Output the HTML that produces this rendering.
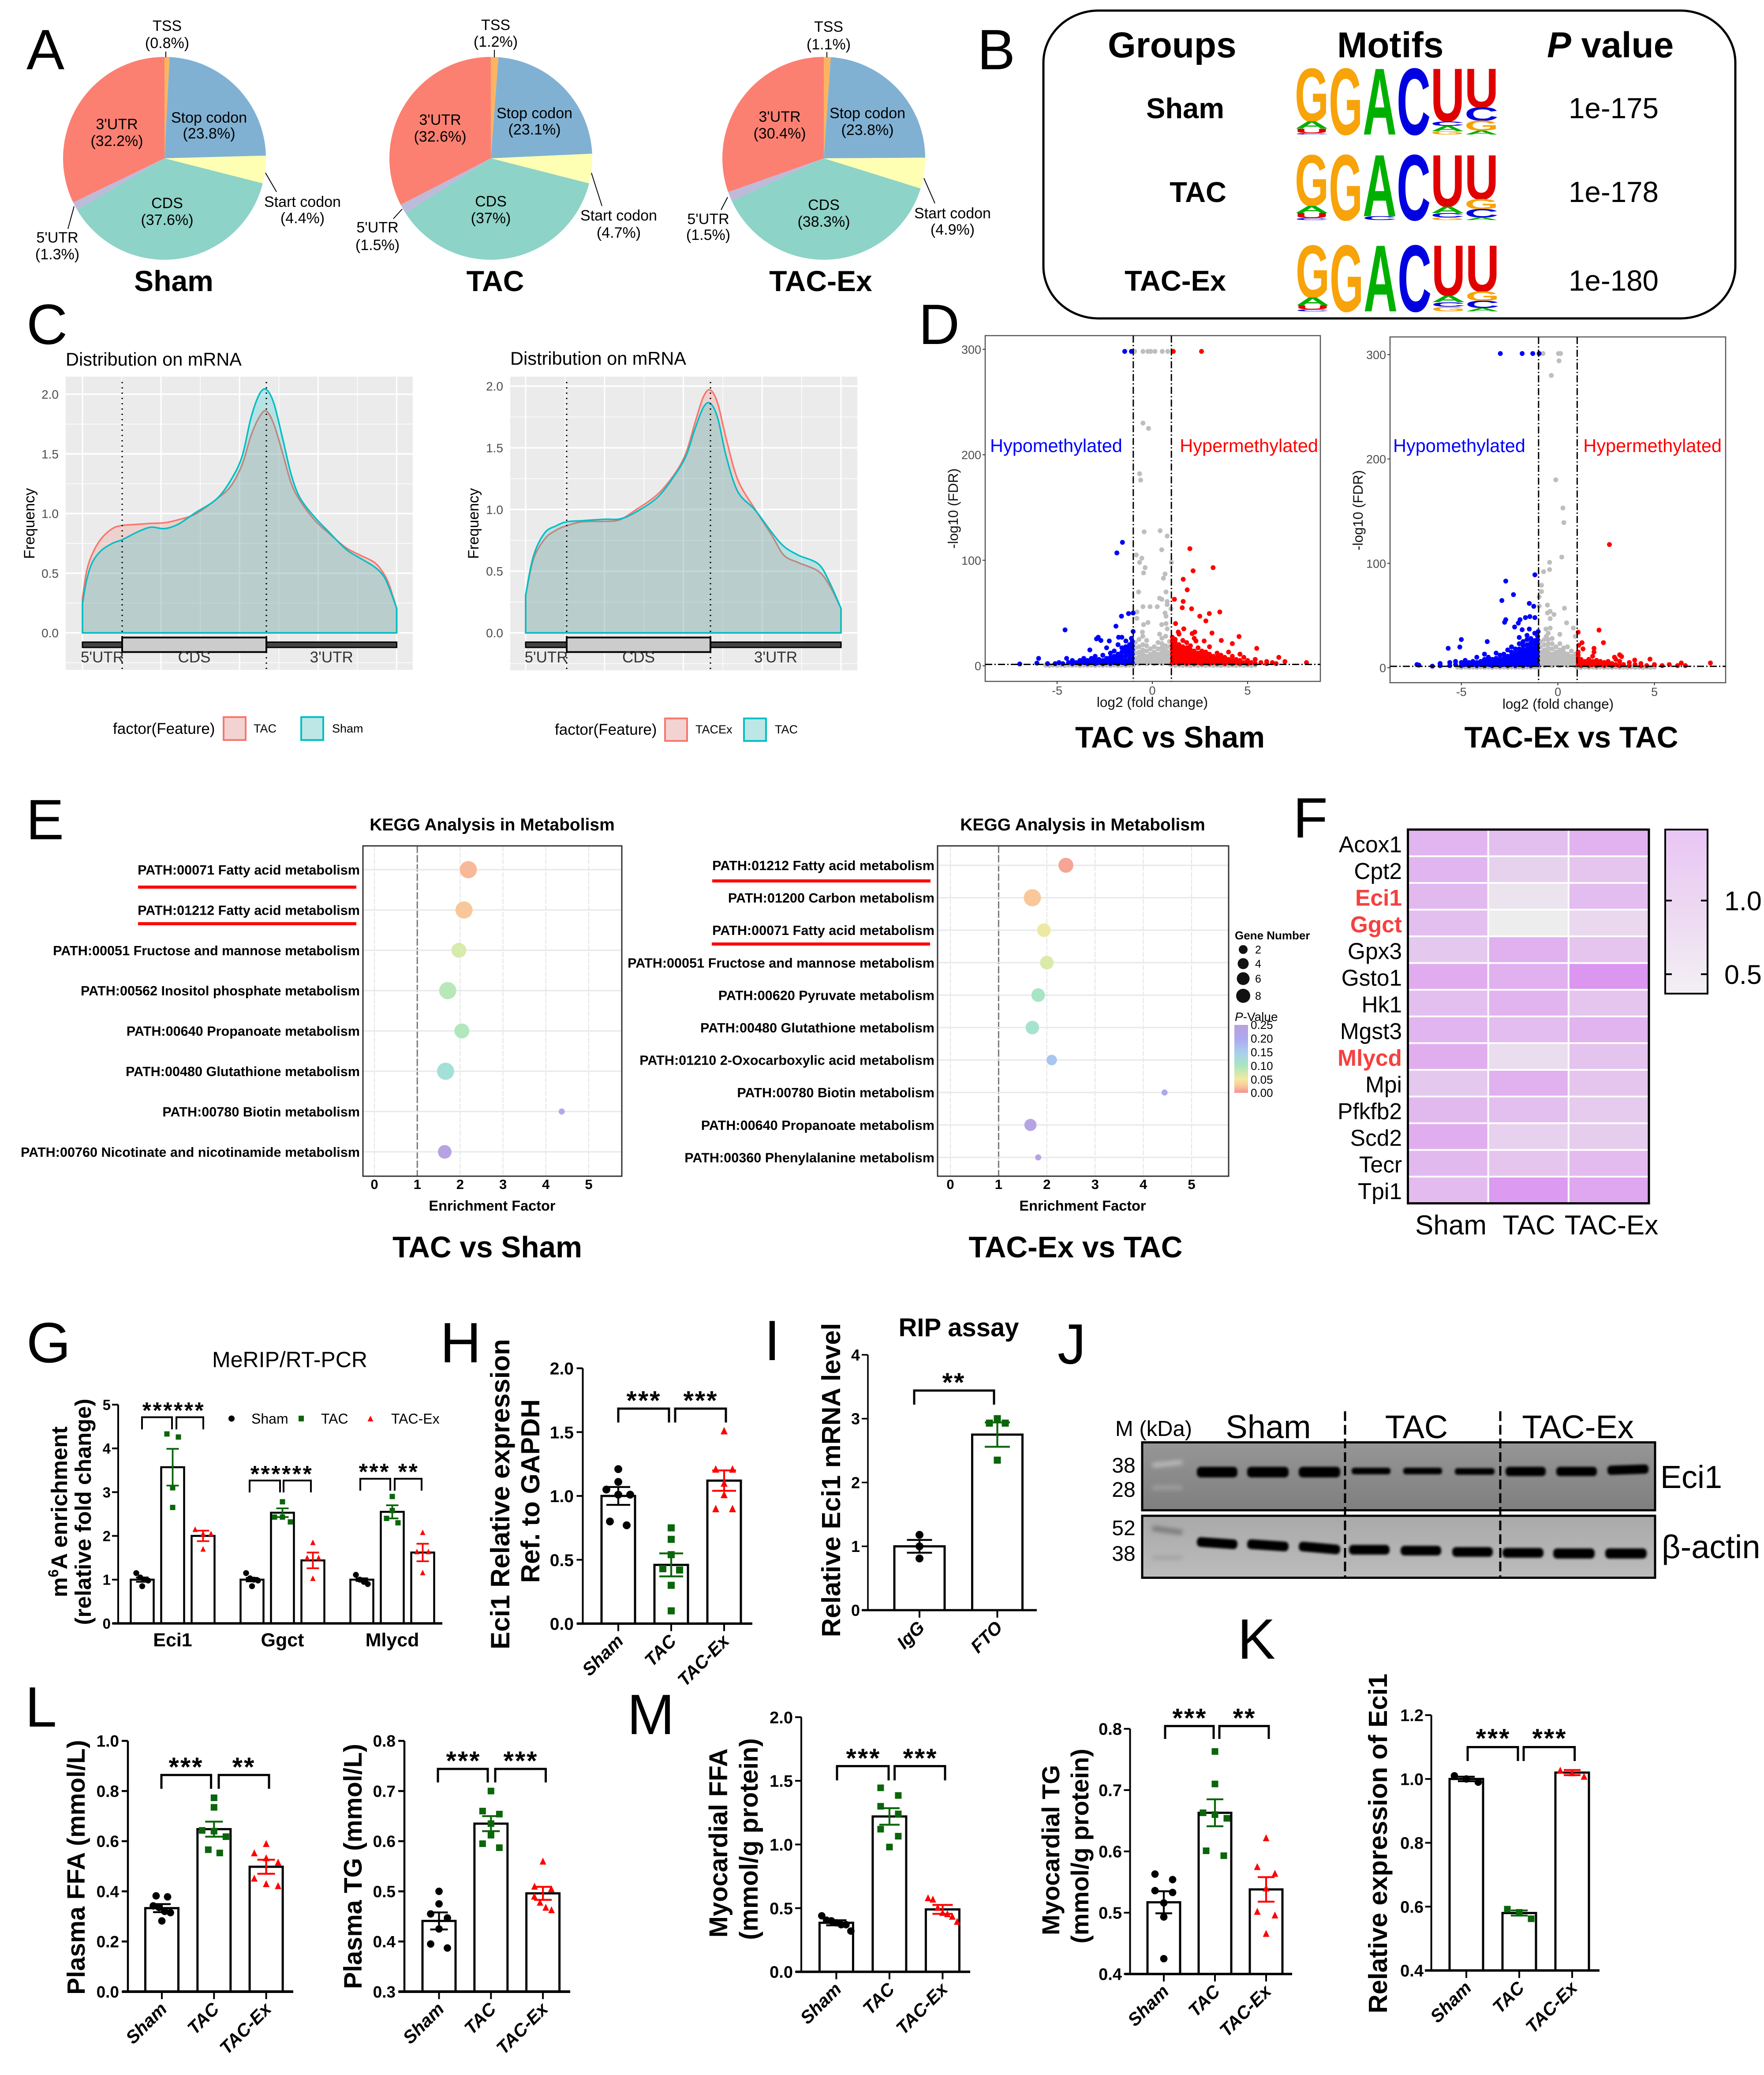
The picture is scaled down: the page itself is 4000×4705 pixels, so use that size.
<!DOCTYPE html>
<html lang="en">
<head>
<meta charset="utf-8">
<title>m6A methylation multi-panel figure</title>
<style>
html,body{margin:0;padding:0;background:#fff}
svg{display:block}
text{font-family:"Liberation Sans",Arial,sans-serif;fill:#000}
.b{font-weight:700}
.m{text-anchor:middle}
.e{text-anchor:end}
.letter{font-size:129px}
.pie{font-size:34px;text-anchor:middle}
.gh{font-size:82px;font-weight:700}
.grow{font-size:65px;font-weight:700;text-anchor:end}
.pv{font-size:65.5px}
.ctitle{font-size:41.5px}
.freq{font-size:34px;text-anchor:middle}
.genemodel{font-size:35px;fill:#333}
.leg{font-size:35px}
.legs{font-size:27px}
.vt{font-size:67.5px;font-weight:700;text-anchor:middle}
.hypo{font-size:41.5px}
.vax{font-size:31.5px;fill:#111;text-anchor:middle}
.kt{font-size:39px;font-weight:700;text-anchor:middle}
.kx{font-size:32.5px;font-weight:700;text-anchor:middle}
.star{font-size:60px;font-weight:700;text-anchor:middle;letter-spacing:3px}
.stars{font-size:52px;font-weight:700;text-anchor:middle;letter-spacing:3.5px}
.yt{font-weight:700;text-anchor:middle}
.wb{font-size:74px;text-anchor:middle}
.kd{font-size:48px;text-anchor:middle}
.bracket{fill:none;stroke:#000;stroke-width:5}
</style>
</head>
<body>
<svg id="fig" xmlns="http://www.w3.org/2000/svg" width="4000" height="4705" viewBox="0 0 4000 4705">
<defs>
<filter id="blur" x="-20%" y="-60%" width="140%" height="220%"><feGaussianBlur stdDeviation="2.6"/></filter>
<filter id="blur2" x="-20%" y="-100%" width="140%" height="300%"><feGaussianBlur stdDeviation="5"/></filter>
<linearGradient id="pvalGrad" x1="0" y1="0" x2="0" y2="1">
<stop offset="0" stop-color="#BBA0DC"/><stop offset=".2" stop-color="#ADA9EE"/><stop offset=".4" stop-color="#A9CDEE"/><stop offset=".6" stop-color="#A9E6C0"/><stop offset=".8" stop-color="#F5E9A0"/><stop offset=".9" stop-color="#F9C89A"/><stop offset="1" stop-color="#F59093"/>
</linearGradient>
<linearGradient id="heatGrad" x1="0" y1="0" x2="0" y2="1">
<stop offset="0" stop-color="#E9C5F5"/><stop offset=".5" stop-color="#EDD9F2"/><stop offset="1" stop-color="#F2F0F4"/>
</linearGradient>
<linearGradient id="blotA" x1="0" y1="0" x2="0" y2="1"><stop offset="0" stop-color="#969696"/><stop offset="1" stop-color="#7f7f7f"/></linearGradient>
<linearGradient id="blotB" x1="0" y1="0" x2="0" y2="1"><stop offset="0" stop-color="#a9a9a9"/><stop offset="1" stop-color="#bcbcbc"/></linearGradient>
</defs>

<rect x="0" y="0" width="4000" height="4705" fill="#fff"/>

<!-- Panel letters -->
<g>
<text class="letter" x="60" y="157">A</text>
<text class="letter" x="2216" y="157">B</text>
<text class="letter" x="60" y="780">C</text>
<text class="letter" x="2083" y="780">D</text>
<text class="letter" x="59" y="1903">E</text>
<text class="letter" x="2932" y="1899">F</text>
<text class="letter" x="60" y="3089">G</text>
<text class="letter" x="998" y="3089">H</text>
<text class="letter" x="1733" y="3084">I</text>
<text class="letter" x="2398" y="3092">J</text>
<text class="letter" x="2806" y="3761">K</text>
<text class="letter" x="57" y="3915">L</text>
<text class="letter" x="1422" y="3932">M</text>
</g>

<g id="pieLayer"></g>

<!-- Panel A labels -->
<g stroke-width="2">
<g stroke="#000">
<line x1="376" y1="117" x2="376" y2="130"/>
<line x1="602" y1="392" x2="627" y2="435"/>
<line x1="168" y1="468" x2="154" y2="519"/>
<line x1="1121" y1="113" x2="1121" y2="130"/>
<line x1="1341" y1="392" x2="1365" y2="467"/>
<line x1="912" y1="474" x2="892" y2="496"/>
<line x1="1875" y1="118" x2="1875" y2="130"/>
<line x1="2095" y1="404" x2="2120" y2="461"/>
<line x1="1650" y1="447" x2="1635" y2="476"/>
</g>
<text class="pie" x="379" y="70">TSS</text><text class="pie" x="379" y="109">(0.8%)</text>
<text class="pie" x="474" y="278">Stop codon</text><text class="pie" x="474" y="314">(23.8%)</text>
<text class="pie" x="265" y="293">3'UTR</text><text class="pie" x="265" y="331">(32.2%)</text>
<text class="pie" x="379" y="472">CDS</text><text class="pie" x="379" y="510">(37.6%)</text>
<text class="pie" x="686" y="469">Start codon</text><text class="pie" x="686" y="506">(4.4%)</text>
<text class="pie" x="130" y="550">5'UTR</text><text class="pie" x="130" y="588">(1.3%)</text>

<text class="pie" x="1124" y="68">TSS</text><text class="pie" x="1124" y="106">(1.2%)</text>
<text class="pie" x="1212" y="268">Stop codon</text><text class="pie" x="1212" y="305">(23.1%)</text>
<text class="pie" x="998" y="283">3'UTR</text><text class="pie" x="998" y="321">(32.6%)</text>
<text class="pie" x="1113" y="468">CDS</text><text class="pie" x="1113" y="506">(37%)</text>
<text class="pie" x="1403" y="500">Start codon</text><text class="pie" x="1403" y="539">(4.7%)</text>
<text class="pie" x="856" y="527">5'UTR</text><text class="pie" x="856" y="567">(1.5%)</text>

<text class="pie" x="1879" y="72">TSS</text><text class="pie" x="1879" y="112">(1.1%)</text>
<text class="pie" x="1967" y="268">Stop codon</text><text class="pie" x="1967" y="306">(23.8%)</text>
<text class="pie" x="1768" y="276">3'UTR</text><text class="pie" x="1768" y="314">(30.4%)</text>
<text class="pie" x="1868" y="476">CDS</text><text class="pie" x="1868" y="514">(38.3%)</text>
<text class="pie" x="2160" y="495">Start codon</text><text class="pie" x="2160" y="532">(4.9%)</text>
<text class="pie" x="1606" y="508">5'UTR</text><text class="pie" x="1606" y="544">(1.5%)</text>

<text class="b m" font-size="66" x="394" y="660">Sham</text>
<text class="b m" font-size="66" x="1123" y="660">TAC</text>
<text class="b m" font-size="66" x="1861" y="660">TAC-Ex</text>
</g>

<!-- Panel B -->
<g>
<rect x="2366" y="24" width="1569" height="698" rx="125" ry="118" fill="#fff" stroke="#000" stroke-width="5"/>
<text class="gh" x="2512" y="130">Groups</text>
<text class="gh" x="3032" y="130">Motifs</text>
<text class="gh" x="3508" y="130"><tspan font-style="italic">P</tspan> value</text>
<text class="grow" x="2776" y="268">Sham</text>
<text class="grow" x="2781" y="458">TAC</text>
<text class="grow" x="2780" y="659">TAC-Ex</text>
<text class="pv" x="3557" y="268">1e-175</text>
<text class="pv" x="3557" y="458">1e-178</text>
<text class="pv" x="3557" y="659">1e-180</text>
<g id="motifLayer"></g>
</g>

<!-- Panel C -->
<g id="curveLayer"></g>
<g>
<text class="ctitle" x="149" y="829">Distribution on mRNA</text>
<text class="ctitle" x="1157" y="827">Distribution on mRNA</text>
<text class="freq" transform="rotate(-90 78 1187)" x="78" y="1187">Frequency</text>
<text class="freq" transform="rotate(-90 1085 1187)" x="1085" y="1187">Frequency</text>
<text class="leg" x="256" y="1664">factor(Feature)</text>
<rect x="507" y="1626" width="50" height="52" fill="#F3D3D1" stroke="#F8766D" stroke-width="4"/>
<text class="legs" x="575" y="1661">TAC</text>
<rect x="683" y="1626" width="50" height="52" fill="#BDE7E7" stroke="#00BFC4" stroke-width="4"/>
<text class="legs" x="753" y="1661">Sham</text>
<text class="leg" x="1258" y="1666">factor(Feature)</text>
<rect x="1508" y="1629" width="50" height="51" fill="#F3D3D1" stroke="#F8766D" stroke-width="4"/>
<text class="legs" x="1577" y="1663">TACEx</text>
<rect x="1687" y="1629" width="50" height="51" fill="#BDE7E7" stroke="#00BFC4" stroke-width="4"/>
<text class="legs" x="1757" y="1663">TAC</text>
</g>

<!-- Panel D -->
<g id="volcanoLayer"></g>
<g>
<text class="hypo" x="2245" y="1025" style="fill:#0000ff">Hypomethylated</text>
<text class="hypo" x="2989" y="1025" text-anchor="end" style="fill:#ff0000">Hypermethylated</text>
<text class="hypo" x="3159" y="1025" style="fill:#0000ff">Hypomethylated</text>
<text class="hypo" x="3904" y="1025" text-anchor="end" style="fill:#ff0000">Hypermethylated</text>
<text class="vax" x="2613" y="1603">log2 (fold change)</text>
<text class="vax" x="3533" y="1607">log2 (fold change)</text>
<text class="vax" font-size="30" transform="rotate(-90 2172 1153)" x="2172" y="1153">-log10 (FDR)</text>
<text class="vax" font-size="30" transform="rotate(-90 3090 1157)" x="3090" y="1157">-log10 (FDR)</text>
<text class="vt" x="2653" y="1695">TAC vs Sham</text>
<text class="vt" x="3563" y="1695">TAC-Ex vs TAC</text>
</g>

<!-- Panel E -->
<g id="keggLayer"></g>
<g>
<text class="kt" x="1116" y="1883">KEGG Analysis in Metabolism</text>
<text class="kt" x="2455" y="1883">KEGG Analysis in Metabolism</text>
<text class="kx" x="1116" y="2745">Enrichment Factor</text>
<text class="kx" x="2455" y="2745">Enrichment Factor</text>
<text class="vt" x="1105" y="2851">TAC vs Sham</text>
<text class="vt" x="2439" y="2851">TAC-Ex vs TAC</text>
<rect x="313" y="2008" width="495" height="7" fill="#ff0000"/>
<rect x="313" y="2091" width="495" height="7" fill="#ff0000"/>
<rect x="1615" y="1994" width="495" height="7" fill="#ff0000"/>
<rect x="1614" y="2137" width="495" height="7" fill="#ff0000"/>
<text class="b" font-size="26" x="2800" y="2130">Gene Number</text>
<circle cx="2819" cy="2153" r="10" fill="#111"/>
<circle cx="2819" cy="2185" r="12.5" fill="#111"/>
<circle cx="2819" cy="2219" r="14.5" fill="#111"/>
<circle cx="2819" cy="2258" r="16" fill="#111"/>
<text font-size="25" x="2846" y="2162">2</text>
<text font-size="25" x="2846" y="2194">4</text>
<text font-size="25" x="2846" y="2228">6</text>
<text font-size="25" x="2846" y="2267">8</text>
<text font-size="28" x="2800" y="2315"><tspan font-style="italic">P</tspan>-Value</text>
<rect x="2799" y="2324" width="31" height="154" fill="url(#pvalGrad)"/>
<text font-size="26" x="2836" y="2333">0.25</text>
<text font-size="26" x="2836" y="2364">0.20</text>
<text font-size="26" x="2836" y="2395">0.15</text>
<text font-size="26" x="2836" y="2426">0.10</text>
<text font-size="26" x="2836" y="2457">0.05</text>
<text font-size="26" x="2836" y="2487">0.00</text>
</g>

<!-- Panel F -->
<g id="heatLayer"></g>
<g>
<rect x="3776" y="1881" width="96" height="372" fill="url(#heatGrad)" stroke="#000" stroke-width="4"/>
<path d="M3776 2042h15M3857 2042h15M3776 2209h15M3857 2209h15" stroke="#000" stroke-width="4"/>
<text font-size="61" x="3910" y="2064">1.0</text>
<text font-size="61" x="3910" y="2231">0.5</text>
</g>

<!-- Bar panels -->
<g id="barLayer"></g>
<g>
<path class="bracket" style="stroke-width:4" d="M322 3241V3213.5H390V3241M400 3241V3213.5H461V3241M566 3384V3357H635V3384M643 3384V3357H705V3384M817 3380V3353H885V3380M895 3380V3353H956V3380"/>
<text class="stars" x="394" y="3216">******</text>
<text class="stars" x="639" y="3360">******</text>
<text class="stars" x="882" y="3355">*** **</text>
<path class="bracket" d="M1402 3225.5V3194H1517V3225.5M1531 3225.5V3194H1646V3225.5"/>
<text class="star" x="1460" y="3196">***</text>
<text class="star" x="1589" y="3196">***</text>
<path class="bracket" d="M2073 3185V3153H2254V3185"/>
<text class="star" x="2163" y="3155">**</text>
<path class="bracket" d="M366 4056V4024.7H478.6V4056M496 4056V4024.7H610V4056"/>
<text class="star" x="422" y="4027">***</text>
<text class="star" x="553" y="4027">**</text>
<path class="bracket" d="M993 4041.6V4011H1106V4041.6M1123 4041.6V4011H1237.5V4041.6"/>
<text class="star" x="1051" y="4013">***</text>
<text class="star" x="1181" y="4013">***</text>
<path class="bracket" d="M1898 4037V4004.6H2015V4037M2028.6 4037V4004.6H2143V4037"/>
<text class="star" x="1958" y="4007">***</text>
<text class="star" x="2087" y="4007">***</text>
<path class="bracket" d="M2642 3943V3913.7H2752V3943M2765 3943V3913.7H2877V3943"/>
<text class="star" x="2698" y="3916">***</text>
<text class="star" x="2822" y="3916">**</text>
<path class="bracket" d="M3328 3993V3961.5H3442V3993M3455 3993V3961.5H3570.7V3993"/>
<text class="star" x="3386" y="3962">***</text>
<text class="star" x="3514" y="3962">***</text>

<text class="m" font-size="50" x="657" y="3100">MeRIP/RT-PCR</text>
<text class="yt" font-size="51" transform="rotate(-90 152 3428)" x="152" y="3428">m<tspan font-size="32" dy="-20">6</tspan><tspan dy="20">A enrichment</tspan></text>
<text class="yt" font-size="51" transform="rotate(-90 206 3428)" x="206" y="3428">(relative fold change)</text>
<circle cx="525" cy="3216.6" r="7" fill="#000"/>
<text font-size="32" x="570" y="3228">Sham</text>
<rect x="677" y="3210" width="12" height="13" fill="#0b650b"/>
<text font-size="32" x="728" y="3228">TAC</text>
<path d="M840 3210l6.500 13h-13z" fill="#ff0000"/>
<text font-size="32" x="887" y="3228">TAC-Ex</text>

<text class="yt" font-size="60" transform="rotate(-90 1155 3388)" x="1155" y="3388">Eci1 Relative expression</text>
<text class="yt" font-size="59.5" transform="rotate(-90 1223 3381)" x="1223" y="3381">Ref. to GAPDH</text>
<text class="b m" font-size="58" x="2174" y="3030">RIP assay</text>
<text class="yt" font-size="59.5" transform="rotate(-90 1905 3356)" x="1905" y="3356">Relative Eci1 mRNA level</text>
<text class="yt" font-size="57" transform="rotate(-90 192 4234)" x="192" y="4234">Plasma FFA (mmol/L)</text>
<text class="yt" font-size="57.5" transform="rotate(-90 820 4232)" x="820" y="4232">Plasma TG (mmol/L)</text>
<text class="yt" font-size="58" transform="rotate(-90 1649 4179)" x="1649" y="4179">Myocardial FFA</text>
<text class="yt" font-size="58" transform="rotate(-90 1718 4170)" x="1718" y="4170">(mmol/g protein)</text>
<text class="yt" font-size="56" transform="rotate(-90 2402 4195)" x="2402" y="4195">Myocardial TG</text>
<text class="yt" font-size="56" transform="rotate(-90 2468 4186)" x="2468" y="4186">(mmol/g protein)</text>
<text class="yt" font-size="59.5" transform="rotate(-90 3145 4180)" x="3145" y="4180">Relative expression of Eci1</text>
</g>

<!-- Panel J -->
<g>
<rect x="2590" y="3270.500" width="1163" height="154" fill="url(#blotA)"/>
<rect x="2590" y="3437" width="1163" height="140.500" fill="url(#blotB)"/>
<g filter="url(#blur2)" fill="#bdbdbd">
<rect x="2612" y="3314" width="70" height="10" rx="5" transform="rotate(-6 2647 3319)"/>
<rect x="2612" y="3368" width="70" height="10" rx="5" opacity=".45"/>
<rect x="2612" y="3464" width="70" height="12" rx="5" fill="#7a7a7a" transform="rotate(8 2647 3469)"/>
<rect x="2612" y="3528" width="70" height="8" rx="4" fill="#a0a0a0"/>
</g>
<g filter="url(#blur)" fill="#000">
<rect x="2714" y="3326" width="92" height="24" rx="9"/>
<rect x="2828" y="3326" width="94" height="24" rx="9"/>
<rect x="2945" y="3326" width="94" height="24" rx="9"/>
<rect x="3065" y="3328" width="88" height="15" rx="6"/>
<rect x="3182" y="3328" width="88" height="15" rx="6"/>
<rect x="3299" y="3329" width="90" height="15" rx="6"/>
<rect x="3414" y="3326" width="91" height="21" rx="8"/>
<rect x="3529" y="3326" width="92" height="21" rx="8"/>
<rect x="3645" y="3322" width="93" height="21" rx="8" transform="rotate(-2 3690 3332)"/>
</g>
<g filter="url(#blur)" fill="#000">
<rect x="2714" y="3488" width="92" height="22" rx="9" transform="rotate(4 2760 3499)"/>
<rect x="2828" y="3493" width="94" height="22" rx="9" transform="rotate(4 2875 3504)"/>
<rect x="2945" y="3499" width="94" height="22" rx="9" transform="rotate(5 2992 3510)"/>
<rect x="3059" y="3503" width="92" height="22" rx="9"/>
<rect x="3176" y="3505" width="92" height="22" rx="9"/>
<rect x="3293" y="3508" width="92" height="22" rx="9"/>
<rect x="3407" y="3510" width="93" height="22" rx="9"/>
<rect x="3522" y="3511" width="94" height="23" rx="9"/>
<rect x="3640" y="3511" width="94" height="23" rx="9"/>
</g>
<rect x="2590" y="3270.500" width="1163" height="154" fill="none" stroke="#000" stroke-width="5"/>
<rect x="2590" y="3437" width="1163" height="140.500" fill="none" stroke="#000" stroke-width="5"/>
<path d="M3050 3200V3576M3402 3200V3576" stroke="#000" stroke-width="5" stroke-dasharray="22 9" fill="none"/>
<text class="m" font-size="49" x="2616" y="3256">M (kDa)</text>
<text class="wb" x="2876" y="3261">Sham</text>
<text class="wb" x="3212" y="3261">TAC</text>
<text class="wb" x="3578" y="3261">TAC-Ex</text>
<text class="kd" x="2548" y="3339">38</text>
<text class="kd" x="2548" y="3394">28</text>
<text class="kd" x="2548" y="3481">52</text>
<text class="kd" x="2548" y="3539">38</text>
<text font-size="72" x="3765" y="3374">Eci1</text>
<text font-size="74" x="3768" y="3533">β-actin</text>
</g>

<script>
/* ---------- Panel A data ---------- */
const pieCategories = ['TSS', 'Stop codon', 'Start codon', 'CDS', "5'UTR", "3'UTR"];
const pieColors = ['#FDB462', '#80B1D3', '#FFFFB3', '#8DD3C7', '#BEBADA', '#FB8072'];
const pieSham = [0.8, 23.8, 4.4, 37.6, 1.3, 32.2];
const pieTac = [1.2, 23.1, 4.7, 37, 1.5, 32.6];
const pieTacEx = [1.1, 23.8, 4.9, 38.3, 1.5, 30.4];

/* ---------- Panel B data (stack heights, top to bottom) ---------- */
const motifSham = [
  [['G',.8],['A',.11],['U',.07],['C',.02]], [['G',1]], [['A',1]], [['C',1]],
  [['U',.8],['C',.07],['A',.08],['G',.05]], [['U',.59],['C',.2],['G',.15],['A',.06]]
];
const motifTac = [
  [['G',.78],['A',.11],['U',.08],['C',.03]], [['G',1]], [['A',.94],['C',.06]], [['C',1]],
  [['U',.79],['A',.1],['C',.07],['G',.04]], [['U',.68],['G',.15],['C',.13],['A',.04]]
];
const motifTacEx = [
  [['G',.79],['A',.12],['U',.06],['C',.03]], [['G',1]], [['A',1]], [['C',1]],
  [['U',.76],['A',.1],['C',.07],['G',.07]], [['U',.7],['G',.14],['C',.11],['A',.05]]
];

/* ---------- Panel C data ---------- */
const curveTickLabels = ['0.0', '0.5', '1.0', '1.5', '2.0'];
const curve1Pos = [0,.013,.031,.059,.095,.127,.178,.218,.261,.305,.361,.426,.472,.508,.536,.563,.585,.609,.637,.664,.692,.738,.783,.839,.884,.93,.958,.976,1];
const curve1Tac = [.29,.515,.66,.787,.874,.90,.91,.918,.923,.948,.998,1.12,1.23,1.41,1.65,1.81,1.86,1.75,1.505,1.257,1.11,.948,.837,.713,.651,.589,.50,.403,.205];
const curve1Sham = [.243,.44,.589,.688,.75,.782,.849,.886,.874,.911,1.01,1.12,1.28,1.48,1.8,2.0,2.04,1.925,1.63,1.33,1.134,.973,.849,.70,.626,.552,.478,.379,.205];
const curve2Pos = [0,.024,.06,.097,.13,.179,.252,.298,.344,.417,.472,.508,.536,.563,.585,.609,.636,.673,.728,.782,.819,.865,.929,.965,1];
const curve2TacEx = [.306,.593,.76,.833,.868,.9,.904,.916,.988,1.12,1.287,1.455,1.694,1.909,1.969,1.861,1.574,1.239,1.0,.785,.629,.569,.498,.378,.199];
const curve2Tac = [.306,.617,.809,.868,.9,.909,.921,.923,.971,1.096,1.275,1.431,1.646,1.825,1.861,1.742,1.431,1.144,.995,.809,.701,.629,.557,.402,.199];
const geneRegions = ["5'UTR", 'CDS', "3'UTR"];

/* ---------- Panel D data: [log2FC, -log10FDR] ---------- */
const volcanoXTicks = [-5, 0, 5];
const volcanoYTicks = [0, 100, 200, 300];
const volcano1Gray = [[-.93,298],[-.49,298],[-.23,298],[-.09,298],[.14,298],[.52,298],[.81,298],[-.49,230],[-.2,225],[-.67,182],[-.61,176],[-.43,127],[.41,128],[.78,123],[.49,110],[-.84,105],[-.55,102],[-.67,98],[1,98],[-.38,93],[-.46,88],[.67,87],[.58,83],[-.72,70],[.72,70],[.5,63],[.38,64],[.78,61],[-.49,56],[-.12,56],[.26,56],[.78,58],[.98,54],[-.81,51],[.67,50],[.72,47],[-.81,45],[-.23,41],[-.46,39],[.49,39],[.72,40],[.78,35],[-.52,32],[.38,30],
[-.9,3],[-.9,7],[-.9,12],[-.9,17],[-.9,22],[-.7,2],[-.7,5],[-.7,9],[-.7,13],[-.7,18],[-.7,25],[-.5,3],[-.5,7],[-.5,11],[-.5,15],[-.5,20],[-.5,28],[-.3,2],[-.3,5],[-.3,9],[-.3,14],[-.3,19],[-.3,24],[-.1,3],[-.1,7],[-.1,11],[-.1,16],[.1,2],[.1,5],[.1,9],[.1,13],[.1,18],[.3,3],[.3,7],[.3,11],[.3,16],[.3,22],[.5,2],[.5,5],[.5,9],[.5,13],[.5,17],[.5,21],[.5,26],[.7,3],[.7,7],[.7,11],[.7,15],[.7,19],[.7,28],[.9,2],[.9,5],[.9,9],[.9,13],[.9,18],[.9,23],
[-5.6,.5],[-5.4,.2],[-5.2,.6],[-5,.3],[-4.8,.5],[-4.6,.2],[-4.4,.6],[-4.2,.3],[-4,.5],[-3.8,.2],[-3.6,.6],[-3.4,.3],[-3.2,.5],[-3,.2],[-2.8,.6],[-2.6,.3],[-2.4,.5],[-2.2,.2],[-2,.6],[-1.8,.3],[-1.6,.5],[-1.4,.2],[-1.2,.6],[-1,.3],[1,.5],[1.2,.2],[1.4,.6],[1.6,.3],[1.8,.5],[2,.2],[2.2,.6],[2.4,.3],[2.6,.5],[2.8,.2],[3,.6],[3.2,.3],[3.4,.5],[3.6,.2],[3.8,.6],[4,.3],[4.2,.5],[4.4,.2],[4.6,.6],[4.8,.3],[5,.5],[5.2,.2],[5.4,.5]];
const volcano1Hypo = [[-1.45,298],[-1.1,298],[-1.57,117],[-1.86,107],[-1.01,50],[-1.25,49.5],[-1.62,47],[-1.91,37.5],[-4.58,34],[-1.01,32.5],[-2.84,27],[-2.93,25.5],[-2.7,24],[-2.26,23.5],[-1.77,27],[-1.6,27],[-1.39,23.5],[-1.1,26],[-3.28,15],[-2.4,17],[-5.97,7],[-6.06,2.5],[-6.96,1.7],
[-1.05,3],[-1.05,7],[-1.05,11],[-1.05,15],[-1.05,19],[-1.05,23],[-1.2,3],[-1.2,6],[-1.2,10],[-1.2,13],[-1.2,16],[-1.2,20],[-1.4,2],[-1.4,5],[-1.4,9],[-1.4,12],[-1.4,15],[-1.4,18],[-1.6,3],[-1.6,6],[-1.6,9],[-1.6,13],[-1.6,17],[-1.8,2],[-1.8,5],[-1.8,8],[-1.8,11],[-1.8,20],[-2,3],[-2,6],[-2,9],[-2,14],[-2.2,2],[-2.2,5],[-2.2,8],[-2.2,12],[-2.4,3],[-2.4,7],[-2.6,2],[-2.6,5],[-2.6,10],[-2.8,3],[-2.8,6],[-3,2],[-3,5],[-3,9],[-3.2,3],[-3.2,7],[-3.4,2],[-3.4,5],[-3.6,3],[-3.6,7],[-3.8,2],[-3.8,5],[-4,3],[-4.2,2],[-4.2,5],[-4.4,3],[-4.5,7],[-4.7,2],[-4.9,3],[-5.1,2],[-5.5,2]];
const volcano1Hyper = [[1.1,298],[2.58,298],[1.97,111],[3.19,93],[2.14,90],[1.62,82],[1.83,72],[1.16,63],[1.62,61],[2.06,54],[1.57,55],[3.54,51],[2.99,49.5],[2.49,47],[2.81,42.5],[1.22,40],[1.65,35],[1.36,32],[2.09,30.5],[2.23,32],[3.13,31],[4.55,27.7],[2.29,23.5],[2.72,23.5],[3.62,24],[4.2,21],[5.48,16.5],[6.64,8],[8.09,3],[6.96,4],[6,4],
[1.05,3],[1.05,7],[1.05,11],[1.05,15],[1.05,19],[1.05,23],[1.05,27],[1.2,3],[1.2,6],[1.2,9],[1.2,12],[1.2,15],[1.2,18],[1.2,22],[1.2,25],[1.4,2],[1.4,5],[1.4,8],[1.4,11],[1.4,14],[1.4,17],[1.4,20],[1.4,30],[1.6,3],[1.6,6],[1.6,9],[1.6,12],[1.6,15],[1.6,18],[1.6,24],[1.8,2],[1.8,5],[1.8,8],[1.8,11],[1.8,14],[1.8,17],[1.8,22],[2,3],[2,6],[2,9],[2,12],[2,15],[2,19],[2.2,2],[2.2,5],[2.2,8],[2.2,11],[2.2,14],[2.2,26],[2.4,3],[2.4,6],[2.4,9],[2.4,12],[2.4,17],[2.6,2],[2.6,5],[2.6,8],[2.6,11],[2.6,14],[2.8,3],[2.8,6],[2.8,9],[2.8,13],[3,2],[3,5],[3,8],[3,11],[3,18],[3.2,3],[3.2,6],[3.2,9],[3.4,2],[3.4,5],[3.4,8],[3.4,12],[3.6,3],[3.6,6],[3.6,10],[3.8,2],[3.8,5],[3.8,8],[4,3],[4,6],[4,13],[4.2,2],[4.2,5],[4.2,9],[4.4,3],[4.4,6],[4.6,2],[4.6,5],[4.6,11],[4.8,3],[4.8,8],[5,2],[5,5],[5.2,3],[5.4,2],[5.4,6],[5.7,3],[6,2],[6.3,3],[6.5,2]];
const volcano2Gray = [[-.77,301],[.03,301],[.14,301],[.06,294],[-.34,280],[-.11,180],[.26,153],[.31,139],[.2,106],[-.43,101],[-.43,94],[-.74,92],[-.85,79],[-.85,73],[-.97,68],[-.54,60],[-.97,59],[.34,57],[-.4,54],[-.54,52.5],[-.2,51],[-.4,47],[.45,43],[-.62,37],[.8,38],[-.5,33],[-.4,38],[-.6,30],[-.3,28],[.1,32],[.9,30],
[-.9,3],[-.9,7],[-.9,11],[-.9,15],[-.9,20],[-.9,25],[-.7,2],[-.7,5],[-.7,9],[-.7,13],[-.7,17],[-.7,22],[-.7,27],[-.5,3],[-.5,7],[-.5,11],[-.5,15],[-.5,19],[-.5,23],[-.5,27],[-.3,2],[-.3,5],[-.3,9],[-.3,13],[-.3,18],[-.3,23],[-.1,3],[-.1,7],[-.1,11],[-.1,15],[-.1,20],[.1,2],[.1,5],[.1,9],[.1,13],[.1,17],[.1,23],[.3,3],[.3,7],[.3,11],[.3,15],[.3,19],[.5,2],[.5,5],[.5,9],[.5,13],[.5,20],[.7,3],[.7,7],[.7,11],[.7,16],[.9,2],[.9,5],[.9,9],[.9,13],
[-5.2,.5],[-5,.2],[-4.8,.6],[-4.6,.3],[-4.4,.5],[-4.2,.2],[-4,.6],[-3.8,.3],[-3.6,.5],[-3.4,.2],[-3.2,.6],[-3,.3],[-2.8,.5],[-2.6,.2],[-2.4,.6],[-2.2,.3],[-2,.5],[-1.8,.2],[-1.6,.6],[-1.4,.3],[-1.2,.5],[-1,.2],[1,.5],[1.2,.2],[1.4,.6],[1.6,.3],[1.8,.5],[2,.2],[2.2,.6],[2.4,.3],[2.6,.5],[2.8,.2],[3,.6],[3.2,.3],[3.4,.5],[3.6,.2],[3.8,.6],[4,.3],[4.2,.5],[4.4,.2],[4.6,.6],[4.8,.3],[5,.5]];
const volcano2Hypo = [[-2.98,301],[-1.85,301],[-1.3,301],[-.97,301],[-1.19,89],[-2.7,83],[-2.3,70],[-2.9,64.4],[-1.48,61.6],[-1.25,58.8],[-2.7,46],[-2.76,43.5],[-1.68,48],[-1.45,49],[-1.19,48],[-1.96,46],[-2.05,42.7],[-2.24,39],[-1.85,36.4],[-1.48,37],[-1.02,34.7],[-5,27],[-3.66,25],[-5.68,18.6],[-5.08,19.8],
[-1.05,3],[-1.05,7],[-1.05,11],[-1.05,15],[-1.05,19],[-1.05,23],[-1.05,27],[-1.05,30],[-1.2,3],[-1.2,6],[-1.2,9],[-1.2,12],[-1.2,15],[-1.2,18],[-1.2,22],[-1.2,26],[-1.2,33],[-1.4,2],[-1.4,5],[-1.4,8],[-1.4,11],[-1.4,14],[-1.4,17],[-1.4,20],[-1.4,24],[-1.4,28],[-1.6,3],[-1.6,6],[-1.6,9],[-1.6,12],[-1.6,15],[-1.6,18],[-1.6,22],[-1.6,27],[-1.6,31],[-1.8,2],[-1.8,5],[-1.8,8],[-1.8,11],[-1.8,14],[-1.8,17],[-1.8,21],[-1.8,25],[-2,3],[-2,6],[-2,9],[-2,12],[-2,15],[-2,18],[-2,23],[-2,29],[-2.2,2],[-2.2,5],[-2.2,8],[-2.2,11],[-2.2,14],[-2.2,18],[-2.4,3],[-2.4,6],[-2.4,9],[-2.4,12],[-2.4,15],[-2.4,20],[-2.6,2],[-2.6,5],[-2.6,8],[-2.6,11],[-2.6,17],[-2.8,3],[-2.8,6],[-2.8,9],[-2.8,13],[-3,2],[-3,5],[-3,8],[-3,12],[-3.2,3],[-3.2,6],[-3.2,9],[-3.2,14],[-3.4,2],[-3.4,5],[-3.4,8],[-3.6,3],[-3.6,6],[-3.6,10],[-3.8,2],[-3.8,5],[-3.8,8],[-3.8,13],[-4,3],[-4,6],[-4.2,2],[-4.2,5],[-4.2,10],[-4.4,3],[-4.4,6],[-4.6,2],[-4.6,5],[-4.8,3],[-4.8,7],[-5,2],[-5,5],[-5.3,3],[-5.3,6],[-5.6,2],[-5.6,5],[-6.1,2],[-6.1,4],[-6.5,1.5],[-7.2,2.5],[-7.3,3]];
const volcano2Hyper = [[2.67,118],[2.13,36],[1.05,34],[2.36,24],[1.25,24],[1.08,21.5],[1.3,18],[1.87,18.6],[1.87,15],[3.2,12.4],[3.3,10.7],[2.93,10],[3.98,7.3],[4.77,8.2],[7.9,4.5],[6.39,4.5],[5.77,3],
[1.05,3],[1.05,6],[1.05,9],[1.05,12],[1.05,15],[1.2,2],[1.2,5],[1.2,8],[1.4,3],[1.4,6],[1.6,2],[1.6,5],[1.6,8],[1.8,3],[1.8,6],[1.8,11],[2,2],[2,5],[2,7],[2.2,3],[2.2,6],[2.4,2],[2.4,5],[2.6,3],[2.6,6],[2.8,2],[2.8,4],[3,3],[3,8],[3.2,2],[3.2,6],[3.4,3],[3.7,2],[3.7,5],[4,3],[4.3,2],[4.3,4],[4.6,2],[5,3],[5.4,2],[6.2,2],[6.6,2]];

/* ---------- Panel E data ---------- */
const keggFactorTicks = [0, 1, 2, 3, 4, 5];
const kegg1Terms = ['PATH:00071 Fatty acid metabolism','PATH:01212 Fatty acid metabolism','PATH:00051 Fructose and mannose metabolism','PATH:00562 Inositol phosphate metabolism','PATH:00640 Propanoate metabolism','PATH:00480 Glutathione metabolism','PATH:00780 Biotin metabolism','PATH:00760 Nicotinate and nicotinamide metabolism'];
const kegg1Factor = [2.19, 2.09, 1.97, 1.71, 2.04, 1.66, 4.37, 1.64];
const kegg1Genes = [8, 8, 6, 8, 6, 8, 1, 5];
const kegg1Pvalues = [.02, .03, .07, .09, .095, .125, .2, .235];
const kegg2Terms = ['PATH:01212 Fatty acid metabolism','PATH:01200 Carbon metabolism','PATH:00071 Fatty acid metabolism','PATH:00051 Fructose and mannose metabolism','PATH:00620 Pyruvate metabolism','PATH:00480 Glutathione metabolism','PATH:01210 2-Oxocarboxylic acid metabolism','PATH:00780 Biotin metabolism','PATH:00640 Propanoate metabolism','PATH:00360 Phenylalanine metabolism'];
const kegg2Factor = [2.395, 1.70, 1.94, 2.0, 1.82, 1.70, 2.10, 4.44, 1.66, 1.82];
const kegg2Genes = [6, 8, 5, 5, 5, 5, 3, 1, 4, 1];
const kegg2Pvalues = [.007, .03, .055, .068, .105, .115, .16, .2, .23, .24];

/* ---------- Panel F data ---------- */
const heatGenes = ['Acox1','Cpt2','Eci1','Ggct','Gpx3','Gsto1','Hk1','Mgst3','Mlycd','Mpi','Pfkfb2','Scd2','Tecr','Tpi1'];
const heatHighlighted = ['Eci1','Ggct','Mlycd'];
const heatGroups = ['Sham','TAC','TAC-Ex'];
const heatValues = [[1.04,.93,1.08],[1.04,.71,.86],[1.0,.51,.95],[.93,.4,.64],[.83,1.1,.87],[1.15,1.1,1.42],[.93,1.05,.86],[1.04,.95,1.07],[1.12,.58,.88],[.83,1.1,.86],[1.0,.93,.79],[1.12,.72,.77],[1.0,.86,.97],[.97,1.35,1.2]];

/* ---------- Bar panel data ---------- */
const groupLabels = ['Sham', 'TAC', 'TAC-Ex'];
const gCategories = ['Eci1', 'Ggct', 'Mlycd'];
const gTicks = ['0', '1', '2', '3', '4', '5'];
const gMeans = [[1, 3.57, 2], [1, 2.53, 1.44], [1, 2.55, 1.62]];
const gSems = [[.05, .42, .12], [.04, .1, .18], [.03, .15, .2]];
const gPoints = [
  [[1.15,1.05,1,.98,.85],[4.33,4.26,3.1,2.65],[2.15,2.05,2.05,1.7]],
  [[1.15,1.03,1,.98,.85],[2.78,2.43,2.43,2.32],[1.85,1.5,1.5,1.03]],
  [[1.11,1,.95,.9],[2.9,2.58,2.4,2.3],[2.08,1.64,1.64,1.16]]
];
const hTicks = ['0.0', '0.5', '1.0', '1.5', '2.0'];
const hMeans = [1.0, .46, 1.12];
const hSems = [.07, .09, .08];
const hPoints = [[1.21,1.11,1.05,1.01,1.01,.8,.77],[.75,.66,.54,.43,.42,.3,.1],[1.51,1.21,1.21,1.1,1.01,.9,.9]];
const iTicks = ['0', '1', '2', '3', '4'];
const iCategories = ['IgG', 'FTO'];
const iMeans = [1.0, 2.75];
const iSems = [.1, .19];
const iPoints = [[1.18,1.0,.81],[3.0,2.93,2.93,2.35]];
const l1Ticks = ['0.0', '0.2', '0.4', '0.6', '0.8', '1.0'];
const l1Means = [.333, .648, .498];
const l1Sems = [.016, .03, .028];
const l1Points = [[.382,.378,.342,.336,.32,.315,.282],[.773,.735,.643,.64,.618,.566,.553],[.59,.553,.533,.516,.452,.43,.422]];
const l2Ticks = ['0.3', '0.4', '0.5', '0.6', '0.7', '0.8'];
const l2Means = [.441, .635, .496];
const l2Sems = [.017, .015, .013];
const l2Points = [[.5,.475,.455,.447,.425,.395,.387],[.7,.66,.654,.635,.612,.595,.587],[.56,.51,.505,.49,.478,.468,.463]];
const m1Ticks = ['0.0', '0.5', '1.0', '1.5', '2.0'];
const m1Means = [.385, 1.22, .49];
const m1Sems = [.02, .065, .035];
const m1Points = [[.44,.405,.4,.385,.37,.37,.32],[1.445,1.385,1.3,1.24,1.12,1.065,.98],[.58,.57,.505,.465,.455,.435,.395]];
const m2Ticks = ['0.4', '0.5', '0.6', '0.7', '0.8'];
const m2Means = [.517, .663, .538];
const m2Sems = [.018, .022, .02];
const m2Points = [[.563,.554,.536,.533,.516,.493,.425],[.763,.71,.663,.66,.654,.601,.593],[.622,.575,.564,.54,.502,.496,.466]];
const kTicks = ['0.4', '0.6', '0.8', '1.0', '1.2'];
const kMeans = [1.0, .58, 1.02];
const kSems = [.007, .008, .008];
const kPoints = [[1.01,1.0,.99],[.592,.582,.562],[1.027,1.019,1.008]];

/* ---------- Helpers ---------- */
const NS = 'http://www.w3.org/2000/svg';
function make(tag, attrs, parent) {
  const el = document.createElementNS(NS, tag);
  for (const k in attrs) el.setAttribute(k, attrs[k]);
  parent.appendChild(el);
  return el;
}
function byId(id) { return document.getElementById(id); }
function smoothPath(pts) {
  let d = 'M' + pts[0][0].toFixed(1) + ' ' + pts[0][1].toFixed(1);
  for (let i = 0; i < pts.length - 1; i++) {
    const p0 = pts[Math.max(0, i - 1)], p1 = pts[i], p2 = pts[i + 1], p3 = pts[Math.min(pts.length - 1, i + 2)];
    const c1x = p1[0] + (p2[0] - p0[0]) / 6, c1y = p1[1] + (p2[1] - p0[1]) / 6;
    const c2x = p2[0] - (p3[0] - p1[0]) / 6, c2y = p2[1] - (p3[1] - p1[1]) / 6;
    d += 'C' + c1x.toFixed(1) + ' ' + c1y.toFixed(1) + ' ' + c2x.toFixed(1) + ' ' + c2y.toFixed(1) + ' ' + p2[0].toFixed(1) + ' ' + p2[1].toFixed(1);
  }
  return d;
}
function linear(d0, d1, r0, r1) { return v => r0 + (v - d0) * (r1 - r0) / (d1 - d0); }

/* ---------- Pies ---------- */
function drawPie(name, values, cx, cy, r) {
  const g = make('g', {}, byId('pieLayer'));
  
  
  const total = values.reduce((a, b) => a + b, 0);
  let acc = 0;
  values.forEach((v, i) => {
    const a0 = acc / total * 2 * Math.PI;
    acc += v;
    const a1 = acc / total * 2 * Math.PI;
    const large = a1 - a0 > Math.PI ? 1 : 0;
    const d = 'M' + cx + ' ' + cy + 'L' + (cx + r * Math.sin(a0)).toFixed(2) + ' ' + (cy - r * Math.cos(a0)).toFixed(2) +
      'A' + r + ' ' + r + ' 0 ' + large + ' 1 ' + (cx + r * Math.sin(a1)).toFixed(2) + ' ' + (cy - r * Math.cos(a1)).toFixed(2) + 'Z';
    const slice = make('path', { d: d, fill: pieColors[i] }, g);
    
    
  });
}
drawPie('pie-sham', pieSham, 373, 359, 230);
drawPie('pie-tac', pieTac, 1113, 359, 230);
drawPie('pie-tac-ex', pieTacEx, 1868, 359, 230);

/* ---------- Motif logos ---------- */
const motifColors = { G: '#F7A309', A: '#00B000', C: '#0000E0', U: '#E00000' };
const motifWidths = { G: .778, A: .722, C: .722, U: .722 };
function drawMotif(name, stacks, x0, yBottom, height, colW) {
  const g = make('g', {}, byId('motifLayer'));
  
  
  stacks.forEach((stack, col) => {
    let y = yBottom - height;
    stack.forEach(layer => {
      const h = layer[1] * height;
      y += h;
      const sx = colW / (motifWidths[layer[0]] * 100);
      const sy = h / 69;
      const t = make('text', {
        x: 0, y: 0, 'font-size': 100, 'font-weight': 700,
        style: 'fill:' + motifColors[layer[0]],
        transform: 'translate(' + (x0 + col * colW).toFixed(1) + ' ' + y.toFixed(1) + ') scale(' + sx.toFixed(3) + ' ' + sy.toFixed(3) + ')'
      }, g);
      
      
      t.textContent = layer[0];
    });
  });
}
drawMotif('motif-logo-sham', motifSham, 2936, 305, 149, 77);
drawMotif('motif-logo-tac', motifTac, 2936, 499, 147, 77);
drawMotif('motif-logo-tac-ex', motifTacEx, 2938, 706, 149, 77);

/* ---------- Density curves ---------- */
function drawCurves(name, c, pos, serA, serB) {
  const g = make('g', {}, byId('curveLayer'));
  
  
  const bg = make('rect', { x: c.left, y: c.top, width: c.right - c.left, height: c.bottom - c.top, fill: '#EBEBEB' }, g);
  
  
  const x = linear(0, 1, c.x0, c.x1);
  const y = linear(0, 2, c.y0, c.y2);
  [.125, .375, .625, .875].forEach(f => {
    const ln = make('line', { x1: x(f), x2: x(f), y1: c.top, y2: c.bottom, stroke: '#fff', 'stroke-width': 1.5 }, g);
    
    
  });
  [0, .25, .5, .75, 1].forEach(f => {
    const ln = make('line', { x1: x(f), x2: x(f), y1: c.top, y2: c.bottom, stroke: '#fff', 'stroke-width': 3 }, g);
    
    
  });
  [-.25, .25, .75, 1.25, 1.75].forEach(v => {
    const ln = make('line', { x1: c.left, x2: c.right, y1: y(v), y2: y(v), stroke: '#fff', 'stroke-width': 1.5 }, g);
    
    
  });
  curveTickLabels.forEach(lbl => {
    const v = Number(lbl);
    const ln = make('line', { x1: c.left, x2: c.right, y1: y(v), y2: y(v), stroke: '#fff', 'stroke-width': 3.5 }, g);
    
    
    const t = make('text', { x: c.left - 16, y: y(v) + 10, 'font-size': 28, 'text-anchor': 'end', style: 'fill:#4d4d4d' }, g);
    
    
    t.textContent = lbl;
  });
  [[serA, '#F8766D', 'series-a'], [serB, '#00BFC4', 'series-b']].forEach(s => {
    const pts = pos.map((p, i) => [x(p), y(s[0][i])]);
    const line = smoothPath(pts);
    const area = make('path', { d: line + 'L' + x(1) + ' ' + y(0) + 'L' + x(0) + ' ' + y(0) + 'Z', fill: s[1], 'fill-opacity': .22, stroke: s[1], 'stroke-width': 3.5 }, g);
    
    
  });
  [c.b1, c.b2].forEach(b => {
    const ln = make('line', { x1: b, x2: b, y1: c.top + 12, y2: c.bottom, stroke: '#000', 'stroke-width': 3, 'stroke-dasharray': '3 9' }, g);
    
    
  });
  const utr = make('rect', { x: c.x0, y: 1456, width: c.x1 - c.x0, height: 12, fill: '#444', stroke: '#000', 'stroke-width': 3 }, g);
  
  
  const cds = make('rect', { x: c.b1, y: 1445.5, width: c.b2 - c.b1, height: 33, fill: '#ccc', stroke: '#000', 'stroke-width': 4 }, g);
  
  
  const regionCenters = [(c.x0 + c.b1) / 2, (c.b1 + c.b2) / 2, (c.b2 + c.x1) / 2];
  geneRegions.forEach((r, i) => {
    const t = make('text', { x: regionCenters[i], y: 1502, class: 'genemodel m' }, g);
    
    
    t.textContent = r;
  });
}
drawCurves('curve-tac-vs-sham', { left: 149, right: 936, top: 854, bottom: 1519, x0: 187, x1: 899.5, b1: 277, b2: 604, y0: 1435, y2: 894 }, curve1Pos, curve1Tac, curve1Sham);
drawCurves('curve-tacex-vs-tac', { left: 1157, right: 1944, top: 854, bottom: 1520, x0: 1192, x1: 1907, b1: 1285, b2: 1611, y0: 1435, y2: 875.5 }, curve2Pos, curve2TacEx, curve2Tac);

/* ---------- Volcano ---------- */
function drawVolcano(name, c, gray, hypo, hyper) {
  const g = make('g', {}, byId('volcanoLayer'));
  
  
  const x = linear(0, 5, c.x0, c.x5);
  const y = linear(0, 300, c.y0, c.y300);
  [[gray, '#BEBEBE', 'gray'], [hypo, '#0000FF', 'hypo'], [hyper, '#FF0000', 'hyper']].forEach(s => {
    s[0].forEach(p => {
      const dot = make('circle', { cx: x(p[0]).toFixed(1), cy: y(p[1]).toFixed(1), r: 5.5, fill: s[1] }, g);
      
      
    });
  });
  const box = make('rect', { x: c.left, y: c.top, width: c.right - c.left, height: c.bottom - c.top, fill: 'none', stroke: '#555', 'stroke-width': 2.5 }, g);
  
  
  [-1, 1].forEach(v => {
    const ln = make('line', { x1: x(v), x2: x(v), y1: c.top, y2: c.bottom, stroke: '#000', 'stroke-width': 3, 'stroke-dasharray': '16 5 3 5' }, g);
    
    
  });
  const hl = make('line', { x1: c.left, x2: c.right, y1: y(1.3), y2: y(1.3), stroke: '#000', 'stroke-width': 3, 'stroke-dasharray': '16 5 3 5' }, g);
  
  
  volcanoXTicks.forEach(v => {
    const tk = make('line', { x1: x(v), x2: x(v), y1: c.bottom, y2: c.bottom + 6, stroke: '#333', 'stroke-width': 2 }, g);
    
    
    const t = make('text', { x: x(v), y: c.bottom + 30, 'font-size': 27, 'text-anchor': 'middle', style: 'fill:#4d4d4d' }, g);
    
    
    t.textContent = v;
  });
  volcanoYTicks.forEach(v => {
    const tk = make('line', { x1: c.left - 6, x2: c.left, y1: y(v), y2: y(v), stroke: '#333', 'stroke-width': 2 }, g);
    
    
    const t = make('text', { x: c.left - 9, y: y(v) + 10, 'font-size': 27, 'text-anchor': 'end', style: 'fill:#4d4d4d' }, g);
    
    
    t.textContent = v;
  });
}
drawVolcano('volcano-tac-vs-sham', { left: 2234, right: 2994, top: 761, bottom: 1545, x0: 2613, x5: 2829, y0: 1509.6, y300: 792 }, volcano1Gray, volcano1Hypo, volcano1Hyper);
drawVolcano('volcano-tacex-vs-tac', { left: 3152, right: 3913, top: 764, bottom: 1548, x0: 3532.6, x5: 3751.5, y0: 1514, y300: 804 }, volcano2Gray, volcano2Hypo, volcano2Hyper);

/* ---------- KEGG dot plots ---------- */
const pvalStops = [[0,[245,154,147]],[.03,[249,200,154]],[.05,[245,233,160]],[.075,[207,235,174]],[.1,[169,230,192]],[.125,[165,224,216]],[.15,[169,205,238]],[.2,[173,169,238]],[.25,[187,160,220]]];
function pvalColor(p) {
  for (let i = 0; i < pvalStops.length - 1; i++) {
    const a = pvalStops[i], b = pvalStops[i + 1];
    if (p <= b[0]) {
      const t = (p - a[0]) / (b[0] - a[0]);
      return 'rgb(' + a[1].map((v, k) => Math.round(v + (b[1][k] - v) * t)).join(',') + ')';
    }
  }
  return 'rgb(187,160,220)';
}
function drawKegg(name, c, terms, factors, genes, pvalues) {
  const g = make('g', {}, byId('keggLayer'));
  
  
  const x = linear(0, 5, c.x0, c.x5);
  const rowY = i => c.firstRow + i * c.rowStep;
  keggFactorTicks.forEach(v => {
    const ln = make('line', { x1: x(v), x2: x(v), y1: c.top, y2: c.bottom, stroke: '#E4E4E4', 'stroke-width': 2, 'stroke-dasharray': '12 3' }, g);
    
    
    const t = make('text', { x: x(v), y: 2696, 'font-size': 31, 'font-weight': 700, 'text-anchor': 'middle' }, g);
    
    
    t.textContent = v;
  });
  const one = make('line', { x1: x(1), x2: x(1), y1: c.top, y2: c.bottom, stroke: '#777', 'stroke-width': 3, 'stroke-dasharray': '16 5' }, g);
  
  
  terms.forEach((term, i) => {
    const ln = make('line', { x1: c.left, x2: c.right, y1: rowY(i), y2: rowY(i), stroke: '#E8E8E8', 'stroke-width': 3 }, g);
    
    
    const t = make('text', { x: c.left - 7, y: rowY(i) + 11, 'font-size': 30.6, 'font-weight': 700, 'text-anchor': 'end' }, g);
    
    
    t.textContent = term;
  });
  terms.forEach((term, i) => {
    const dot = make('circle', { cx: x(factors[i]), cy: rowY(i), r: 6.9 * Math.sqrt(genes[i]), fill: pvalColor(pvalues[i]) }, g);
    
    
  });
  const box = make('rect', { x: c.left, y: c.top, width: c.right - c.left, height: c.bottom - c.top, fill: 'none', stroke: '#333', 'stroke-width': 3 }, g);
  
  
}
drawKegg('kegg-tac-vs-sham', { left: 823, right: 1410, top: 1918, bottom: 2667, x0: 849, x5: 1335, firstRow: 1972, rowStep: 91.4 }, kegg1Terms, kegg1Factor, kegg1Genes, kegg1Pvalues);
drawKegg('kegg-tacex-vs-tac', { left: 2126, right: 2786, top: 1918, bottom: 2667, x0: 2155, x5: 2702, firstRow: 1962, rowStep: 73.6 }, kegg2Terms, kegg2Factor, kegg2Genes, kegg2Pvalues);

/* ---------- Heatmap ---------- */
function heatColor(v) {
  const t = Math.max(0, Math.min(1, (v - .4) / 1.0));
  const lo = [237, 237, 237], hi = [219, 150, 240];
  return 'rgb(' + lo.map((c, i) => Math.round(c + (hi[i] - c) * t)).join(',') + ')';
}
(function drawHeat() {
  const g = byId('heatLayer');
  const left = 3192.5, right = 3739, top = 1881, bottom = 2728.5;
  const cw = (right - left) / heatGroups.length, rh = (bottom - top) / heatGenes.length;
  const white = make('rect', { x: left, y: top, width: right - left, height: bottom - top, fill: '#fff' }, g);
  
  
  heatValues.forEach((row, r) => {
    row.forEach((v, c) => {
      const cell = make('rect', { x: left + c * cw + 2, y: top + r * rh + 2, width: cw - 4, height: rh - 4, fill: heatColor(v) }, g);
      
      
    });
    const hot = heatHighlighted.includes(heatGenes[r]);
    const t = make('text', { x: 3179, y: top + (r + .5) * rh + 21, 'font-size': 51.5, 'text-anchor': 'end', 'font-weight': hot ? 700 : 400, style: hot ? 'fill:#F54040' : 'fill:#000' }, g);
    
    
    t.textContent = heatGenes[r];
  });
  const frame = make('rect', { x: left, y: top, width: right - left, height: bottom - top, fill: 'none', stroke: '#000', 'stroke-width': 5 }, g);
  
  
  const labelX = [3290, 3467, 3654];
  heatGroups.forEach((h, i) => {
    const t = make('text', { x: labelX[i], y: 2799, 'font-size': 62, 'text-anchor': 'middle' }, g);
    
    
    t.textContent = h;
  });
})();

/* ---------- Bars ---------- */
const groupColors = ['#000000', '#0B650B', '#FF0000'];
const groupMarkers = ['circle', 'square', 'triangle'];
function marker(g, type, x, y, s, color) {
  let el;
  if (type === 'circle') el = make('circle', { cx: x, cy: y, r: s * .56, fill: color }, g);
  else if (type === 'square') el = make('rect', { x: x - s / 2, y: y - s / 2, width: s, height: s, fill: color }, g);
  else el = make('path', { d: 'M' + x + ' ' + (y - s * .55) + 'L' + (x + s / 2) + ' ' + (y + s * .5) + 'L' + (x - s / 2) + ' ' + (y + s * .5) + 'Z', fill: color }, g);
  return el;
}
/* Bins points that sit close vertically and spreads each bin symmetrically, as a column scatter does. */
function swarmOffsets(vals, y, c) {
  const order = vals.map((v, i) => i).sort((a, b) => vals[b] - vals[a]);
  const bin = c.bin || c.mSize;
  const offsets = vals.map(() => 0);
  let group = [];
  const flush = () => {
    const n = group.length;
    group.forEach((idx, k) => {
      if (n === 2) offsets[idx] = (k === 0 ? -1 : 1) * c.mStep;
      else if (n === 3) offsets[idx] = (k - 1) * (c.triStep || 27);
      else if (n > 3) offsets[idx] = (k - (n - 1) / 2) * (c.multi || 12);
    });
    group = [];
  };
  order.forEach(idx => {
    if (group.length && Math.abs(y(vals[idx]) - y(vals[group[group.length - 1]])) > bin) flush();
    group.push(idx);
  });
  flush();
  return offsets;
}
function drawBar(g, y, c, cx, mean, sem, pts, grp) {
  const top = y(mean);
  const base = y(c.vMin);
  const bar = make('rect', { x: cx - c.barW / 2, y: top, width: c.barW, height: base - top, fill: '#fff', stroke: '#000', 'stroke-width': c.sw }, g);
  
  
  const off = swarmOffsets(pts, y, c);
  pts.forEach((v, i) => {
    const m = marker(g, groupMarkers[grp], cx + off[i], y(v), c.mSize, groupColors[grp]);
    
    
  });
  const cap = c.capW / 2;
  const err = make('path', {
    d: 'M' + cx + ' ' + y(mean + sem) + 'V' + y(mean - sem) +
       'M' + (cx - cap) + ' ' + y(mean + sem) + 'H' + (cx + cap) +
       'M' + (cx - cap) + ' ' + y(mean - sem) + 'H' + (cx + cap),
    stroke: groupColors[grp], 'stroke-width': c.sw * .85, fill: 'none'
  }, g);
  
  
}
function drawAxes(g, y, c, ticks) {
  const base = y(c.vMin);
  const ya = make('line', { x1: c.axisX, x2: c.axisX, y1: y(c.vMax), y2: base, stroke: '#000', 'stroke-width': c.axisW }, g);
  
  
  const xa = make('line', { x1: c.xStart, x2: c.xEnd, y1: base, y2: base, stroke: '#000', 'stroke-width': c.axisW + 1.5 }, g);
  
  
  ticks.forEach(lbl => {
    const v = Number(lbl);
    const tk = make('line', { x1: c.axisX - 14, x2: c.axisX, y1: y(v), y2: y(v), stroke: '#000', 'stroke-width': c.axisW }, g);
    
    
    const t = make('text', { x: c.tickRight, y: y(v) + c.tickFont * .36, 'font-size': c.tickFont, 'font-weight': 700, 'text-anchor': 'end' }, g);
    
    
    t.textContent = lbl;
  });
}
function barPanel(c, ticks, labels, means, sems, points) {
  const g = make('g', {}, byId('barLayer'));
  
  
  const y = linear(c.vMin, c.vMax, c.y0, c.yTop);
  const cx = i => c.first + i * c.step;
  means.forEach((m, i) => drawBar(g, y, c, cx(i), m, sems[i], points[i], c.groupIdx ? c.groupIdx[i] : i));
  drawAxes(g, y, c, ticks);
  labels.forEach((lbl, i) => {
    const tk = make('line', { x1: cx(i), x2: cx(i), y1: c.y0, y2: c.y0 + 17, stroke: '#000', 'stroke-width': 4 }, g);
    
    
    const ax = cx(i) + 14, ay = c.y0 + 42;
    const t = make('text', { x: ax, y: ay, 'font-size': 41, 'font-weight': 700, 'font-style': 'italic', 'text-anchor': 'end', transform: 'rotate(-45 ' + ax + ' ' + ay + ')' }, g);
    
    
    t.textContent = lbl;
  });
}
/* Panel G: grouped bars */
(function drawG() {
  const g = make('g', {}, byId('barLayer'));
  
  
  const c = { vMin: 0, vMax: 5, y0: 3681, yTop: 3185, barW: 52, sw: 4.5, capW: 28, mSize: 12, mStep: 13, triStep: 18, multi: 9, axisX: 268, axisW: 4, xStart: 255, xEnd: 1003, tickRight: 251, tickFont: 33 };
  const y = linear(0, 5, c.y0, c.yTop);
  const center = (cat, grp) => 322.5 + cat * 249 + grp * 69;
  gMeans.forEach((row, cat) => row.forEach((m, grp) => drawBar(g, y, c, center(cat, grp), m, gSems[cat][grp], gPoints[cat][grp], grp)));
  drawAxes(g, y, c, gTicks);
  gCategories.forEach((lbl, cat) => {
    const t = make('text', { x: center(cat, 1), y: 3733, 'font-size': 43, 'font-weight': 700, 'text-anchor': 'middle' }, g);
    
    
    t.textContent = lbl;
  });
})();
barPanel({ name: 'panel-h-eci1-expression', vMin: 0, vMax: 2, y0: 3681.5, yTop: 3102.5, first: 1402, step: 120, barW: 76, sw: 5, capW: 54, mSize: 16, mStep: 19, triStep: 27, multi: 13, bin: 15, axisX: 1321.5, axisW: 4, xStart: 1308, xEnd: 1706, tickRight: 1301, tickFont: 39 }, hTicks, groupLabels, hMeans, hSems, hPoints);
barPanel({ name: 'panel-i-rip-assay', groupIdx: [0, 1], vMin: 0, vMax: 4, y0: 3651, yTop: 3072, first: 2085, step: 176.5, barW: 114, sw: 5, capW: 57, mSize: 16, mStep: 18, bin: 8, axisX: 1968, axisW: 3.5, xStart: 1954, xEnd: 2351, tickRight: 1950, tickFont: 36 }, iTicks, iCategories, iMeans, iSems, iPoints);
barPanel({ name: 'panel-l-plasma-ffa', vMin: 0, vMax: 1, y0: 4516, yTop: 3947.4, first: 367, step: 118.3, barW: 75, sw: 5, capW: 40, mSize: 15, mStep: 13, triStep: 27, multi: 13, axisX: 290, axisW: 4.5, xStart: 277, xEnd: 665, tickRight: 270, tickFont: 37 }, l1Ticks, groupLabels, l1Means, l1Sems, l1Points);
barPanel({ name: 'panel-l-plasma-tg', vMin: .3, vMax: .8, y0: 4516, yTop: 3947.4, first: 995.5, step: 117.8, barW: 75, sw: 5, capW: 40, mSize: 15, mStep: 19, triStep: 27, multi: 13, axisX: 917, axisW: 4.5, xStart: 904, xEnd: 1293, tickRight: 897, tickFont: 37 }, l2Ticks, groupLabels, l2Means, l2Sems, l2Points);
barPanel({ name: 'panel-m-myocardial-ffa', vMin: 0, vMax: 2, y0: 4471, yTop: 3893.6, first: 1896.4, step: 120.5, barW: 76, sw: 5, capW: 46, mSize: 15, mStep: 20, triStep: 27, multi: 11, bin: 20, axisX: 1817, axisW: 4, xStart: 1804, xEnd: 2200, tickRight: 1798, tickFont: 38 }, m1Ticks, groupLabels, m1Means, m1Sems, m1Points);
barPanel({ name: 'panel-m-myocardial-tg', vMin: .4, vMax: .8, y0: 4476, yTop: 3920, first: 2639, step: 116, barW: 74, sw: 5, capW: 38, mSize: 15, mStep: 20, triStep: 27, multi: 13, bin: 17, axisX: 2562.5, axisW: 4, xStart: 2550, xEnd: 2930, tickRight: 2544, tickFont: 38 }, m2Ticks, groupLabels, m2Means, m2Sems, m2Points);
barPanel({ name: 'panel-k-relative-expression', vMin: .4, vMax: 1.2, y0: 4468, yTop: 3889, first: 3325, step: 120, barW: 76, sw: 5, capW: 38, mSize: 15, mStep: 13, triStep: 27, axisX: 3245.6, axisW: 4, xStart: 3231, xEnd: 3627, tickRight: 3228, tickFont: 38 }, kTicks, groupLabels, kMeans, kSems, kPoints);
</script>
</svg>
</body>
</html>
